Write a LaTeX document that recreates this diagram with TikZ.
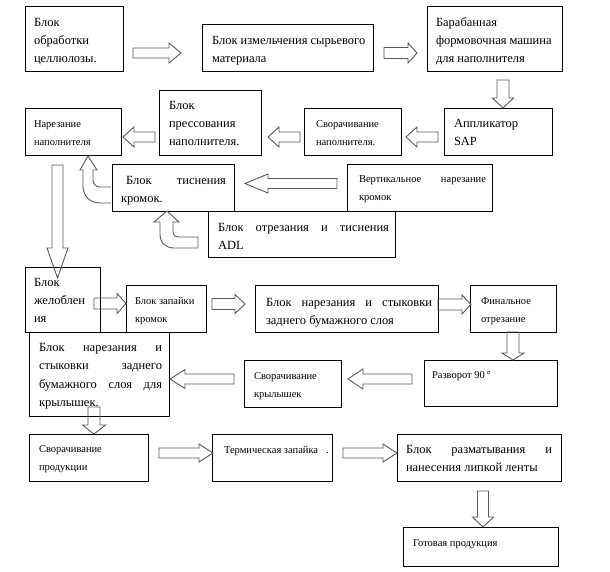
\documentclass[tikz,border=0pt]{standalone}
\usepackage{fontspec}
\setmainfont{Liberation Serif}
\newcommand\harr[6]{\draw[blk] (#1,#4-#5) -- (#2,#4-#5) -- (#2,#4-#6) -- (#3,#4) -- (#2,#4+#6) -- (#2,#4+#5) -- (#1,#4+#5) -- cycle;}
\newcommand\varr[6]{\draw[blk] (#4-#5,#1) -- (#4-#5,#2) -- (#4-#6,#2) -- (#4,#3) -- (#4+#6,#2) -- (#4+#5,#2) -- (#4+#5,#1) -- cycle;}
\begin{document}
\begin{tikzpicture}[x=1pt,y=-1pt,
  box/.style={draw=black, line width=0.8pt, anchor=north west, inner sep=0pt, outer sep=0pt},
  blk/.style={draw=black!65, line width=0.9pt, line join=miter},
  txt/.style={anchor=base west, inner sep=0pt, outer sep=0pt},
  big/.style={txt, font=\fontsize{12.5}{18}\selectfont},
  sml/.style={txt, font=\fontsize{10.5}{18}\selectfont}]
\useasboundingbox (0,0) rectangle (610,571);
% boxes
\node[box, minimum width=98pt, minimum height=65pt] (b1) at (25,6) {};
\node[box, minimum width=171pt, minimum height=47pt] (b2) at (202,24) {};
\node[box, minimum width=135pt, minimum height=65pt] (b3) at (427,6) {};
\node[box, minimum width=96pt, minimum height=47pt] (b4) at (25,108) {};
\node[box, minimum width=102pt, minimum height=65pt] (b5) at (159,90) {};
\node[box, minimum width=97pt, minimum height=47pt] (b6) at (304,108) {};
\node[box, minimum width=108pt, minimum height=47pt] (b7) at (444,108) {};
\node[box, minimum width=122pt, minimum height=47pt] (b8) at (112,164) {};
\node[box, minimum width=145pt, minimum height=47pt] (b9) at (347,164) {};
\node[box, minimum width=187pt, minimum height=46pt] (b10) at (208,211) {};
\node[box, minimum width=75pt, minimum height=65pt] (b11) at (25,267) {};
\node[box, minimum width=80pt, minimum height=47pt] (b12) at (126,285) {};
\node[box, minimum width=183pt, minimum height=47pt] (b13) at (255,285) {};
\node[box, minimum width=86pt, minimum height=47pt] (b14) at (470,285) {};
\node[box, minimum width=140pt, minimum height=84pt] (b15) at (29,332) {};
\node[box, minimum width=97pt, minimum height=47pt] (b16) at (244,360) {};
\node[box, minimum width=133pt, minimum height=46pt] (b17) at (424,360) {};
\node[box, minimum width=119pt, minimum height=47pt] (b18) at (29,434) {};
\node[box, minimum width=120pt, minimum height=47pt] (b19) at (212,434) {};
\node[box, minimum width=164pt, minimum height=47pt] (b20) at (397,434) {};
\node[box, minimum width=155pt, minimum height=39pt] (b21) at (403,527) {};
% texts
\node[big] (t1) at (34,26) {\vtop{\hbox{Блок}\hbox{обработки}\hbox{целлюлозы.}}};
\node[big] (t2) at (212,44) {\vtop{\hbox{Блок измельчения сырьевого}\hbox{материала}}};
\node[big] (t3) at (436,26) {\vtop{\hbox{Барабанная}\hbox{формовочная машина}\hbox{для наполнителя}}};
\node[sml] (t4) at (34,127) {\vtop{\hbox{Нарезание}\hbox{наполнителя}}};
\node[big] (t5) at (169,109) {\vtop{\hbox{Блок}\hbox{прессования}\hbox{наполнителя.}}};
\node[sml] (t6) at (316,127) {\vtop{\hbox{Сворачивание}\hbox{наполнителя.}}};
\node[big] (t7) at (454,127) {\vtop{\hbox{Аппликатор}\hbox{SAP}}};
\node[big] (t8) at (121,184) {\vtop{\hbox to 105pt{\hskip5pt Блок\hfill тиснения}\hbox{кромок.}}};
\node[sml] (t9) at (359,182) {\vtop{\hbox to 127pt{Вертикальное\hfill нарезание}\hbox{кромок}}};
\node[big] (t10) at (218,231) {\vtop{\hbox to 171pt{Блок\hfill отрезания\hfill и\hfill тиснения}\hbox{ADL}}};
\node[big] (t11) at (34,286) {\vtop{\hbox{Блок}\hbox{желоблен}\hbox{ия}}};
\node[sml] (t12) at (135,304) {\vtop{\hbox{Блок запайки}\hbox{кромок}}};
\node[big] (t13) at (266,306) {\vtop{\hbox to 166pt{Блок\hfill нарезания\hfill и\hfill стыковки}\hbox{заднего бумажного слоя}}};
\node[sml] (t14) at (481,304) {\vtop{\hbox{Финальное}\hbox{отрезание}}};
\node[big, font=\fontsize{12.5}{18.5}\selectfont] (t15) at (39,351) {\vtop{\hbox to 123pt{Блок\hfill нарезания\hfill и}\hbox to 123pt{стыковки\hfill заднего}\hbox to 123pt{бумажного\hfill слоя\hfill для}\hbox{крылышек.}}};
\node[sml] (t16) at (254,379) {\vtop{\hbox{Сворачивание}\hbox{крылышек}}};
\node[sml] (t17) at (432,378) {Разворот 90\,°};
\node[sml] (t18) at (39,452) {\vtop{\hbox{Сворачивание}\hbox{продукции}}};
\node[sml] (t19) at (224,453) {Термическая запайка\hskip8pt.};
\node[big] (t20) at (406,453) {\vtop{\hbox to 146pt{Блок\hfill разматывания\hfill и}\hbox{нанесения липкой ленты}}};
\node[sml] (t21) at (413,546) {Готовая продукция};
% block arrows (tail, base, tip, centre, shaft half, head half)
\harr{133}{169}{181}{53}{5}{10}
\harr{384}{408}{417}{53}{5.5}{10}
\harr{438}{417}{406}{137}{5}{10}
\harr{300}{279}{268}{137}{5}{10}
\harr{155}{134}{123}{137}{5}{10}
\harr{337}{268}{245}{183.5}{5}{9.5}
\harr{94}{117}{126}{303.5}{5.5}{10}
\harr{212}{235}{245}{304}{5.5}{9.5}
\harr{438}{462}{471}{304.5}{5.5}{9.5}
\harr{234}{185}{170}{379}{5}{9.5}
\harr{412}{363}{348}{379}{5}{10}
\harr{159}{199}{213}{453}{5}{9}
\harr{343}{383}{397}{453}{5}{9}
\varr{80}{98}{108}{503}{6}{10.5}
\varr{165}{248}{278}{57.5}{5.5}{10.5}
\varr{332}{353}{360}{513}{6}{11}
\varr{407}{425}{434}{94}{6}{11.5}
\varr{491}{517}{527}{483}{5.5}{10.5}
% bent arrows
\draw[blk] (111,187) -- (100,187) .. controls (96,187) and (93,184) .. (93,180) -- (93,170) -- (97,170) -- (88,156) -- (80,170) -- (83,170) -- (83,186) .. controls (83,196) and (90,203) .. (100,203) -- (111,203);
\draw[blk] (198,248) -- (198,237) -- (179,237) .. controls (175,237) and (173,235) .. (173,231) -- (173,222) -- (179,222) -- (167,211) -- (154,222) -- (160,222) -- (160,234) .. controls (160,243) and (166,248) .. (174,248) -- cycle;
\end{tikzpicture}
\end{document}
